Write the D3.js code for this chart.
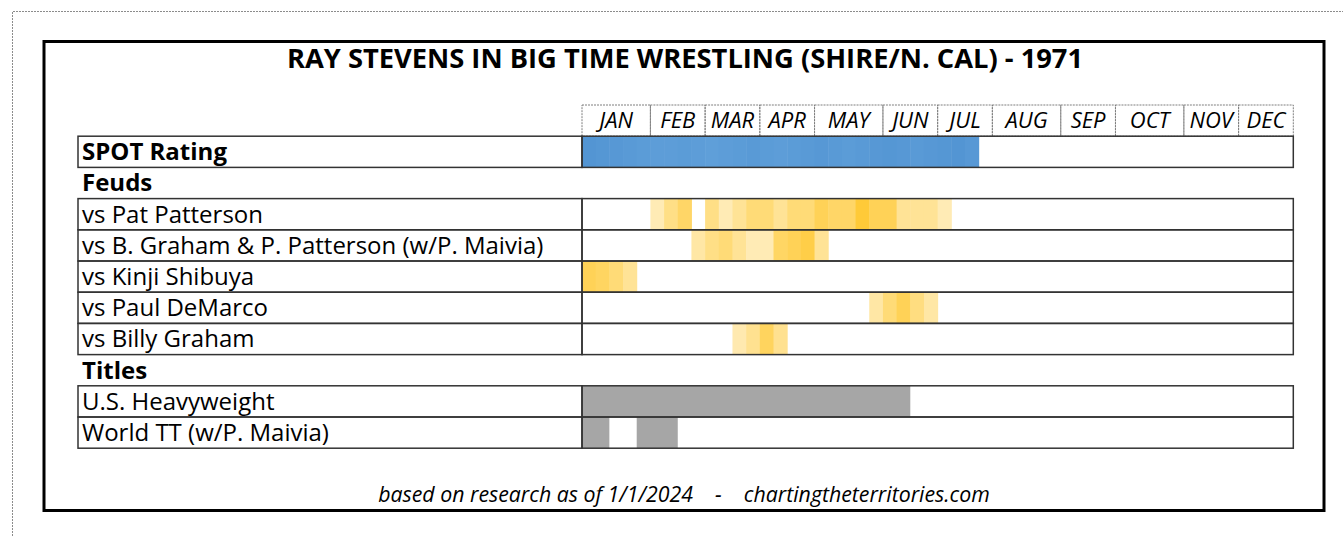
<!DOCTYPE html>
<html>
<head>
<meta charset="utf-8">
<script src="https://cdn.jsdelivr.net/npm/d3@7"></script>
<style>
  body { margin: 0; background: #fff; }
  text { font-family: "Open Sans", Lato, sans-serif; fill: #000; }
</style>
</head>
<body>
<svg id="chart" width="1343" height="536"></svg>
<script>
// months and how many week columns each one gets
const months = ["JAN", "FEB", "MAR", "APR", "MAY", "JUN", "JUL", "AUG", "SEP", "OCT", "NOV", "DEC"];
const weeksPerMonth = [5, 4, 4, 4, 5, 4, 4, 5, 4, 5, 4, 4];

const rowLabels = ["SPOT Rating", "Feuds", "vs Pat Patterson", "vs B. Graham & P. Patterson (w/P. Maivia)",
    "vs Kinji Shibuya", "vs Paul DeMarco", "vs Billy Graham", "Titles", "U.S. Heavyweight", "World TT (w/P. Maivia)"];
const rowKinds = ["spot", "section", "feud", "feud", "feud", "feud", "feud", "section", "title", "title"];

// spot rating, one value per week from week 0
const spotRating = [3.1, 3.2, 3.3, 3.4, 3.5, 3.6, 3.6, 3.5, 3.6, 3.7, 3.6, 3.5, 3.4, 3.5, 3.6,
    3.5, 3.4, 3.3, 3.4, 3.5, 3.4, 3.3, 3.2, 3.3, 3.4, 3.3, 3.2, 3.1, 3.3];

// feud heat per week, starting at the given week (0 = no activity)
const patPattersonStart = 5;
const patPattersonHeat = [1, 2.5, 3.5, 0, 2.5, 1, 2, 3, 3, 2, 3, 3, 4, 3.5, 3.5, 5, 4, 4, 2, 2, 2, 1];
const grahamPattersonStart = 8;
const grahamPattersonHeat = [1.5, 2.5, 3, 2, 1, 1, 3.6, 4, 4.5, 2];
const kinjiShibuyaStart = 0;
const kinjiShibuyaHeat = [4, 3.7, 3, 2];
const paulDeMarcoStart = 21;
const paulDeMarcoHeat = [1.5, 3, 4, 2.7, 1.5];
const billyGrahamStart = 11;
const billyGrahamHeat = [1.2, 2.2, 3.8, 2.2];

// title reigns as [first week, week after last]
const usHeavyweightReigns = [[0, 24]];
const worldTagReigns = [[0, 2], [4, 7]];

const titleText = "RAY STEVENS IN BIG TIME WRESTLING (SHIRE/N. CAL) - 1971";
const footerText = "based on research as of 1/1/2024    -    chartingtheterritories.com";

const svg = d3.select("#chart");
const labelLeft = 78, gridLeft = 582, gridRight = 1293.3;

const x = d3.scaleBand()
    .domain(d3.range(d3.sum(weeksPerMonth)))
    .range([gridLeft, gridRight]);
const y = d3.scaleBand()
    .domain(["header"].concat(rowLabels))
    .range([105, 448.2]);

const heatColor = d3.scaleLinear().domain([1, 5]).range(["#ffebb5", "#ffca38"]);
const spotColor = d3.scaleLinear().domain([3.1, 3.7]).range(["#5395d3", "#5f9fd9"]);

// frames
svg.append("path")
    .attr("d", "M12.5,536 V11.5 H1343")
    .attr("fill", "none")
    .attr("stroke", "#8c8c8c")
    .attr("stroke-dasharray", "2,1");
svg.append("rect")
    .attr("x", 44).attr("y", 41.5)
    .attr("width", 1280).attr("height", 469)
    .attr("fill", "none")
    .attr("stroke", "#000")
    .attr("stroke-width", 3);

svg.append("text")
    .attr("x", 685).attr("y", 68)
    .attr("text-anchor", "middle")
    .attr("font-weight", "bold")
    .attr("font-size", 27.3)
    .text(titleText);

// month header
let monthStarts = d3.cumsum([0].concat(weeksPerMonth)).slice(0, 12);
let monthCells = months.map((m, i) => ({
    name: m,
    x0: x(monthStarts[i]),
    x1: x(monthStarts[i] + weeksPerMonth[i] - 1) + x.bandwidth()
}));
let header = svg.append("g").attr("id", "header");
header.selectAll("rect")
    .data(monthCells).enter()
    .append("rect")
    .attr("x", d => d.x0).attr("y", y("header"))
    .attr("width", d => d.x1 - d.x0).attr("height", y.bandwidth())
    .attr("fill", "none")
    .attr("stroke", "#7f7f7f")
    .attr("stroke-dasharray", "2,1");
header.selectAll("text")
    .data(monthCells).enter()
    .append("text")
    .attr("x", d => (d.x0 + d.x1) / 2)
    .attr("y", y("header") + 22.5)
    .attr("text-anchor", "middle")
    .attr("font-style", "italic")
    .attr("font-size", 22)
    .text(d => d.name);

// cell fills
function heatCells(label, start, heat) {
    let cells = heat.map((v, i) => ({week: start + i, v: v})).filter(d => d.v > 0);
    svg.append("g").selectAll("rect")
        .data(cells).enter()
        .append("rect")
        .attr("x", d => x(d.week)).attr("y", y(label))
        .attr("width", x.bandwidth() + 0.5).attr("height", y.bandwidth())
        .attr("fill", d => heatColor(d.v));
}

svg.append("g").selectAll("rect")
    .data(spotRating).enter()
    .append("rect")
    .attr("x", (d, i) => x(i)).attr("y", y("SPOT Rating"))
    .attr("width", x.bandwidth() + 0.5).attr("height", y.bandwidth())
    .attr("fill", d => spotColor(d));

heatCells("vs Pat Patterson", patPattersonStart, patPattersonHeat);
heatCells("vs B. Graham & P. Patterson (w/P. Maivia)", grahamPattersonStart, grahamPattersonHeat);
heatCells("vs Kinji Shibuya", kinjiShibuyaStart, kinjiShibuyaHeat);
heatCells("vs Paul DeMarco", paulDeMarcoStart, paulDeMarcoHeat);
heatCells("vs Billy Graham", billyGrahamStart, billyGrahamHeat);

function reignCells(label, reigns) {
    svg.append("g").selectAll("rect")
        .data(reigns).enter()
        .append("rect")
        .attr("x", d => x(d[0])).attr("y", y(label))
        .attr("width", d => x(d[1] - 1) + x.bandwidth() - x(d[0])).attr("height", y.bandwidth())
        .attr("fill", "#a6a6a6");
}
reignCells("U.S. Heavyweight", usHeavyweightReigns);
reignCells("World TT (w/P. Maivia)", worldTagReigns);

// borders and row labels
let rows = rowLabels.map((l, i) => ({label: l, kind: rowKinds[i]}));
let boxed = rows.filter(d => d.kind != "section");
let borders = svg.append("g").attr("id", "borders");
borders.selectAll("rect.label")
    .data(boxed).enter()
    .append("rect")
    .attr("x", labelLeft).attr("y", d => y(d.label))
    .attr("width", gridLeft - labelLeft).attr("height", y.bandwidth())
    .attr("fill", "none").attr("stroke", "#333").attr("stroke-width", 1.5);
borders.selectAll("rect.grid")
    .data(boxed).enter()
    .append("rect")
    .attr("x", gridLeft).attr("y", d => y(d.label))
    .attr("width", gridRight - gridLeft).attr("height", y.bandwidth())
    .attr("fill", "none").attr("stroke", "#333").attr("stroke-width", 1.5);

svg.append("g").selectAll("text")
    .data(rows).enter()
    .append("text")
    .attr("x", 82)
    .attr("y", d => y(d.label) + 24)
    .attr("font-size", 24)
    .attr("font-weight", d => d.kind == "title" || d.kind == "feud" ? "normal" : "bold")
    .text(d => d.label);

svg.append("text")
    .attr("x", 684).attr("y", 502)
    .attr("text-anchor", "middle")
    .attr("font-style", "italic")
    .attr("font-size", 21.3)
    .attr("xml:space", "preserve")
    .style("white-space", "pre")
    .text(footerText);
</script>
</body>
</html>
